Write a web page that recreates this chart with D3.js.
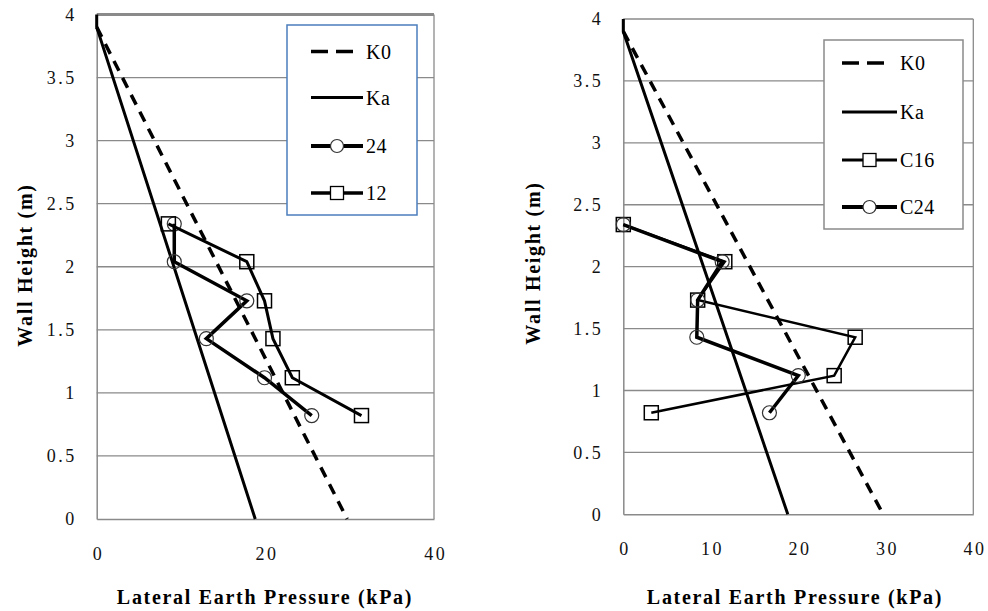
<!DOCTYPE html>
<html>
<head>
<meta charset="utf-8">
<script src="https://cdn.jsdelivr.net/npm/d3@7/dist/d3.min.js"></script>
<style>
  html, body { margin: 0; padding: 0; background: #fff; }
  svg { display: block; }
</style>
</head>
<body>
<svg id="chart" width="988" height="611"></svg>
<script>
// ---------- data ----------
const heights = [2.34, 2.04, 1.73, 1.43, 1.12, 0.82];

const k0Pressure = [0, 29.7];
const k0Height = [3.9, 0];
const kaPressure = [0, 0, 18.8];
const kaHeight = [4, 3.9, 0];

const left24Pressure = [9.2, 9.2, 17.8, 13.0, 19.9, 25.5];
const left12Pressure = [8.5, 17.8, 19.9, 20.9, 23.2, 31.4];

const rightC16Pressure = [0, 11.6, 8.5, 26.5, 24.1, 3.2];
const rightC24Pressure = [0, 11.3, 8.5, 8.4, 20.0, 16.7];

const yTicks = [0, 0.5, 1, 1.5, 2, 2.5, 3, 3.5, 4];
const yTickLabels = ["0", "0.5", "1", "1.5", "2", "2.5", "3", "3.5", "4"];
const leftXTicks = [0, 20, 40];
const rightXTicks = [0, 10, 20, 30, 40];

const leftLegendLabels = ["K0", "Ka", "24", "12"];
const rightLegendLabels = ["K0", "Ka", "C16", "C24"];

const xTitle = "Lateral Earth Pressure (kPa)";
const yTitle = "Wall Height (m)";

// ---------- font detection ----------
function fontAvailable(name) {
  const c = document.createElement("canvas").getContext("2d");
  const s = "Lateral Earth Pressure (kPa) 0123456789 WmiI";
  const res = ["monospace", "sans-serif"].map(base => {
    c.font = "40px " + base;
    const w0 = c.measureText(s).width;
    c.font = "40px '" + name + "', " + base;
    return c.measureText(s).width !== w0;
  });
  return res[0] || res[1];
}
const serifCandidates = ["Liberation Serif", "DejaVu Serif", "Noto Serif", "Tinos", "Times New Roman",
  "Times", "FreeSerif", "Nimbus Roman", "Noto Serif CJK SC", "Noto Serif CJK JP"];
const found = serifCandidates.find(fontAvailable);
const FONT = found ? `'${found}', serif` : "'Liberation Sans', Arial, sans-serif";

// ---------- drawing ----------
const svg = d3.select("#chart");
const zip = (xs, ys) => xs.map((x, i) => [x, ys[i]]);

const styles = {
  K0: { width: 3.5, dash: "11,8", marker: null },
  Ka: { width: 3, dash: null, marker: null },
  S24: { width: 3.5, dash: null, marker: "circle" },
  S12: { width: 3, dash: null, marker: "square" },
  C16: { width: 2.5, dash: null, marker: "square" },
  C24: { width: 3.5, dash: null, marker: "circle" }
};

function drawMarker(g, type, x, y) {
  if (type === "circle") {
    g.append("circle").attr("cx", x).attr("cy", y).attr("r", 7)
      .attr("fill", "none").attr("stroke", "#333").attr("stroke-width", 1.2);
  } else if (type === "square") {
    g.append("rect").attr("x", x - 7).attr("y", y - 7).attr("width", 14).attr("height", 14)
      .attr("fill", "none").attr("stroke", "#000").attr("stroke-width", 1.5);
  }
}

function panel(cfg) {
  const x = d3.scaleLinear().domain([0, 40]).range([cfg.x0, cfg.x1]);
  const y = d3.scaleLinear().domain([0, 4]).range([cfg.y0, cfg.y1]);
  const g = svg.append("g");

  g.append("g").selectAll("line").data(yTicks.slice(1, -1)).join("line")
    .attr("x1", cfg.x0).attr("x2", cfg.x1)
    .attr("y1", d => y(d)).attr("y2", d => y(d))
    .attr("stroke", "#8a8a8a").attr("stroke-width", 1.3);
  g.append("line").attr("x1", cfg.x0).attr("x2", cfg.x1)
    .attr("y1", y(4)).attr("y2", y(4))
    .attr("stroke", "#8a8a8a").attr("stroke-width", cfg.topWidth);
  g.append("line").attr("x1", cfg.x1).attr("x2", cfg.x1)
    .attr("y1", y(4)).attr("y2", y(0))
    .attr("stroke", "#8a8a8a").attr("stroke-width", 1.3);

  const yAxis = d3.axisLeft(y).tickValues(yTicks).tickSize(0).tickPadding(20)
    .tickFormat((d, i) => yTickLabels[i]);
  const ya = g.append("g").attr("transform", `translate(${cfg.x0},0)`).call(yAxis)
    .attr("font-family", FONT);
  ya.select(".domain").attr("stroke", "#8a8a8a").attr("stroke-width", 1.5);
  ya.selectAll("text").attr("font-size", 18).attr("letter-spacing", 2.5)
    .style("font-family", FONT).attr("fill", "#111");

  const xAxis = d3.axisBottom(x).tickValues(cfg.xTicks).tickSize(0).tickPadding(28)
    .tickFormat(d3.format("d"));
  const xa = g.append("g").attr("transform", `translate(0,${cfg.y0})`).call(xAxis)
    .attr("font-family", FONT);
  xa.select(".domain").attr("stroke", "#8a8a8a").attr("stroke-width", 1.5);
  xa.selectAll("text").attr("font-size", 18).attr("letter-spacing", 2.5)
    .attr("dx", 1.25)
    .style("font-family", FONT).attr("fill", "#111");

  g.append("text").attr("x", cfg.xTitleX).attr("y", cfg.xTitleY)
    .attr("text-anchor", "middle").attr("font-weight", "bold").attr("font-size", 20)
    .attr("letter-spacing", 1.7)
    .style("font-family", FONT)
    .text(xTitle);
  g.append("text")
    .attr("transform", `translate(${cfg.yTitleX},${cfg.yTitleY}) rotate(-90)`)
    .attr("text-anchor", "middle").attr("font-weight", "bold").attr("font-size", 20)
    .attr("letter-spacing", 1.7)
    .style("font-family", FONT)
    .text(yTitle);

  const line = d3.line().x(d => x(d[0])).y(d => y(d[1]));

  cfg.series.forEach(s => {
    const st = styles[s.style];
    const pts = zip(s.px, s.h);
    g.append("path").attr("d", line(pts)).attr("fill", "none")
      .attr("stroke", "#000").attr("stroke-width", st.width)
      .attr("stroke-dasharray", st.dash).attr("stroke-linejoin", "miter");
    if (st.marker) {
      const mg = g.append("g");
      pts.forEach(p => drawMarker(mg, st.marker, x(p[0]), y(p[1])));
    }
  });

  const L = cfg.legend;
  g.append("rect").attr("x", L.x).attr("y", L.y).attr("width", L.w).attr("height", L.h)
    .attr("fill", "#fff").attr("stroke", L.stroke).attr("stroke-width", 1.5);
  cfg.series.forEach((s, i) => {
    const st = styles[s.style];
    const ly = L.rowY[i];
    g.append("line").attr("x1", L.lx0).attr("x2", st.dash ? L.lx0 + 42 : L.lx1).attr("y1", ly).attr("y2", ly)
      .attr("stroke", "#000").attr("stroke-width", st.width + (st.marker ? 0.5 : 0))
      .attr("stroke-dasharray", st.dash ? "17,8" : null);
    if (st.marker) {
      const cx = (L.lx0 + L.lx1) / 2;
      if (st.marker === "circle") {
        g.append("circle").attr("cx", cx).attr("cy", ly).attr("r", 6.5)
          .attr("fill", "#fff").attr("stroke", "#333").attr("stroke-width", 1.2);
      } else {
        g.append("rect").attr("x", cx - 6.5).attr("y", ly - 6.5).attr("width", 13).attr("height", 13)
          .attr("fill", "#fff").attr("stroke", "#000").attr("stroke-width", 1.3);
      }
    }
    g.append("text").attr("x", L.tx).attr("y", ly + 7).attr("font-size", 20)
      .attr("letter-spacing", 0.5)
      .style("font-family", FONT)
      .text(L.labels[i]);
  });
}

panel({
  x0: 96.7, x1: 434, y0: 519, y1: 14.5, topWidth: 3,
  xTicks: leftXTicks,
  xTitleX: 265, xTitleY: 604, yTitleX: 32, yTitleY: 265,
  series: [
    { style: "K0", px: k0Pressure, h: k0Height },
    { style: "Ka", px: kaPressure, h: kaHeight },
    { style: "S24", px: left24Pressure, h: heights },
    { style: "S12", px: left12Pressure, h: heights }
  ],
  legend: { x: 287, y: 25, w: 130, h: 190, stroke: "#4a7ebb",
    rowY: [51.5, 97.5, 146, 193], lx0: 311, lx1: 363, tx: 366, labels: leftLegendLabels }
});

panel({
  x0: 623.3, x1: 973.3, y0: 514.3, y1: 19, topWidth: 1.5,
  xTicks: rightXTicks,
  xTitleX: 795, xTitleY: 604, yTitleX: 540, yTitleY: 263,
  series: [
    { style: "K0", px: k0Pressure, h: k0Height },
    { style: "Ka", px: kaPressure, h: kaHeight },
    { style: "C16", px: rightC16Pressure, h: heights },
    { style: "C24", px: rightC24Pressure, h: heights }
  ],
  legend: { x: 824, y: 40, w: 139, h: 189, stroke: "#8a8a8a",
    rowY: [63, 112, 160, 207], lx0: 842, lx1: 897, tx: 900, labels: rightLegendLabels }
});
</script>
</body>
</html>
